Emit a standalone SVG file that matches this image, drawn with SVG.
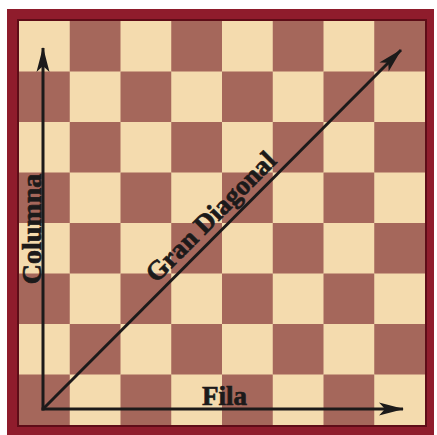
<svg xmlns="http://www.w3.org/2000/svg" width="437" height="435" viewBox="0 0 437 435">
<style>
.d{fill:#a5675b}
.lbl{font-family:"Liberation Serif","Times New Roman",serif;font-weight:bold;font-size:27px;fill:#1c1a1a;stroke:#1c1a1a;stroke-width:0.7}
.ar{stroke:#1c1a1a;stroke-width:3;fill:none}
</style>
<defs>
<marker id="ah" markerUnits="userSpaceOnUse" markerWidth="30" markerHeight="16" viewBox="-26 -8 28 16" refX="0" refY="0" orient="auto">
<path d="M1,0 L-24,-6.5 L-18,0 L-24,6.5 Z" fill="#1c1a1a"/>
</marker>
</defs>
<rect width="437" height="435" fill="#ffffff"/>
<g id="frame">
<rect x="7" y="9" width="427" height="426" fill="#8f1c2c"/>
<rect x="17" y="19" width="410" height="408" fill="#5e0c17"/>
</g>
<g id="board">
<rect x="19" y="21" width="406" height="404" fill="#f4dbae"/>
<rect class="d" x="69.75" y="21" width="50.75" height="50.5"/>
<rect class="d" x="171.25" y="21" width="50.75" height="50.5"/>
<rect class="d" x="272.75" y="21" width="50.75" height="50.5"/>
<rect class="d" x="374.25" y="21" width="50.75" height="50.5"/>
<rect class="d" x="19" y="71.5" width="50.75" height="50.5"/>
<rect class="d" x="120.5" y="71.5" width="50.75" height="50.5"/>
<rect class="d" x="222" y="71.5" width="50.75" height="50.5"/>
<rect class="d" x="323.5" y="71.5" width="50.75" height="50.5"/>
<rect class="d" x="69.75" y="122" width="50.75" height="50.5"/>
<rect class="d" x="171.25" y="122" width="50.75" height="50.5"/>
<rect class="d" x="272.75" y="122" width="50.75" height="50.5"/>
<rect class="d" x="374.25" y="122" width="50.75" height="50.5"/>
<rect class="d" x="19" y="172.5" width="50.75" height="50.5"/>
<rect class="d" x="120.5" y="172.5" width="50.75" height="50.5"/>
<rect class="d" x="222" y="172.5" width="50.75" height="50.5"/>
<rect class="d" x="323.5" y="172.5" width="50.75" height="50.5"/>
<rect class="d" x="69.75" y="223" width="50.75" height="50.5"/>
<rect class="d" x="171.25" y="223" width="50.75" height="50.5"/>
<rect class="d" x="272.75" y="223" width="50.75" height="50.5"/>
<rect class="d" x="374.25" y="223" width="50.75" height="50.5"/>
<rect class="d" x="19" y="273.5" width="50.75" height="50.5"/>
<rect class="d" x="120.5" y="273.5" width="50.75" height="50.5"/>
<rect class="d" x="222" y="273.5" width="50.75" height="50.5"/>
<rect class="d" x="323.5" y="273.5" width="50.75" height="50.5"/>
<rect class="d" x="69.75" y="324" width="50.75" height="50.5"/>
<rect class="d" x="171.25" y="324" width="50.75" height="50.5"/>
<rect class="d" x="272.75" y="324" width="50.75" height="50.5"/>
<rect class="d" x="374.25" y="324" width="50.75" height="50.5"/>
<rect class="d" x="19" y="374.5" width="50.75" height="50.5"/>
<rect class="d" x="120.5" y="374.5" width="50.75" height="50.5"/>
<rect class="d" x="222" y="374.5" width="50.75" height="50.5"/>
<rect class="d" x="323.5" y="374.5" width="50.75" height="50.5"/>
</g>
<g id="connectors">
<line class="ar" x1="43" y1="410.5" x2="43" y2="48" marker-end="url(#ah)"/>
<line class="ar" x1="41.5" y1="409" x2="403" y2="409" marker-end="url(#ah)"/>
<line class="ar" x1="43" y1="409" x2="401" y2="50" marker-end="url(#ah)"/>
</g>
<g id="labels">
<text class="lbl" x="202" y="405">Fila</text>
<text class="lbl" style="font-size:28px" text-anchor="middle" transform="translate(41,229) rotate(-90)">Columna</text>
<text class="lbl" text-anchor="middle" transform="translate(217,223) rotate(-45)">Gran Diagonal</text>
</g>
</svg>
